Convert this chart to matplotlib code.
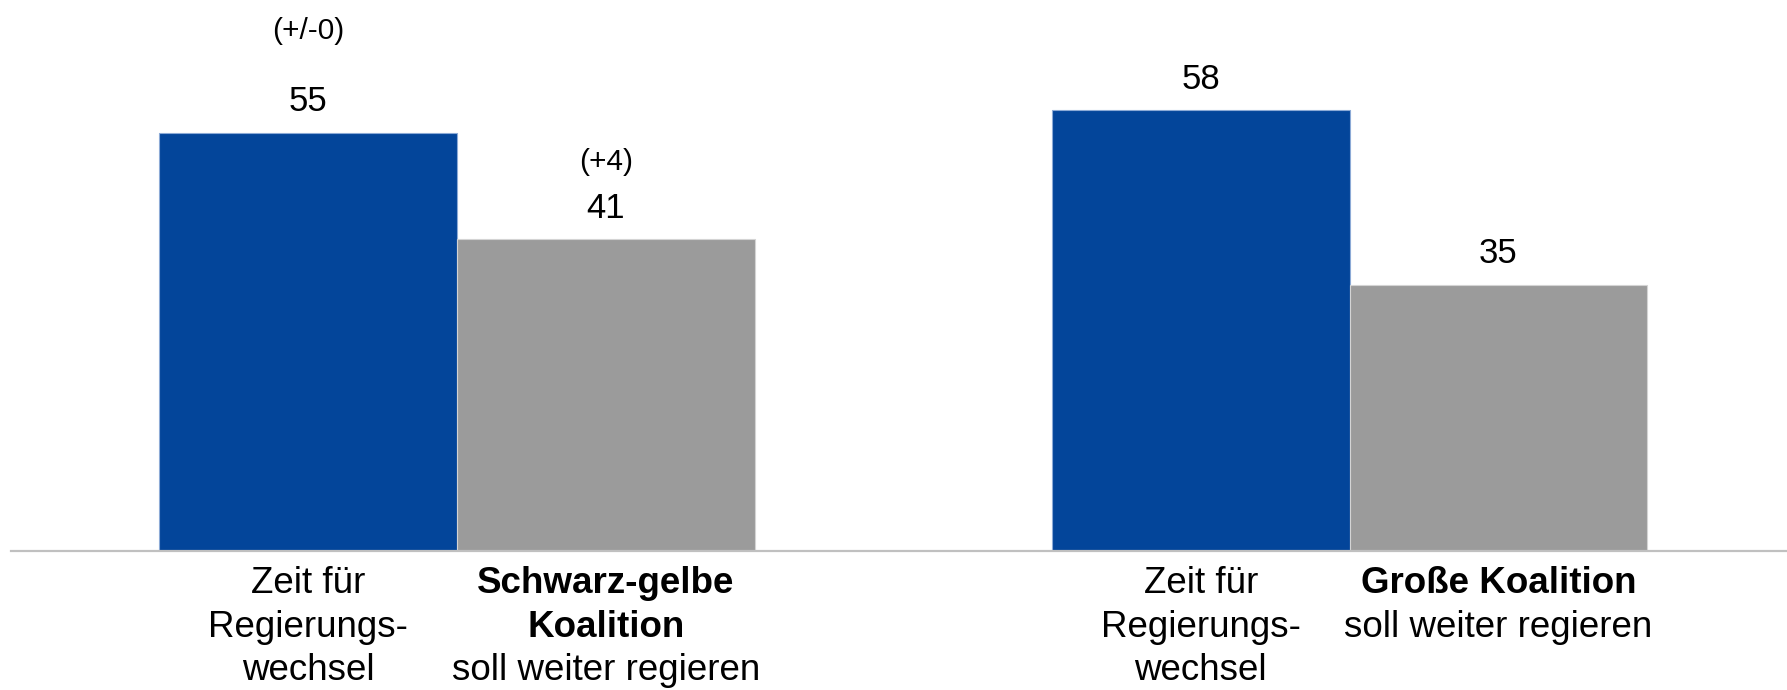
import matplotlib
matplotlib.use('Agg')
import matplotlib.pyplot as plt

plt.rcParams['font.family'] = ['Liberation Sans', 'DejaVu Sans']

# data
positions = [0, 1, 3, 4]
values = [55, 41, 58, 35]
colors = ['#03459a', '#9b9b9b', '#03459a', '#9b9b9b']
edges = ['#8caad6', '#d4d4d4', '#8caad6', '#d4d4d4']
changes = ['(+/-0)', '(+4)']
change_idx = [0, 1]
change_offsets = [68, 50]

# category labels: (bold part, regular part), one entry per bar
label_bold = ['', 'Schwarz-gelbe\nKoalition', '', 'Große Koalition']
label_regular = ['Zeit für\nRegierungs-\nwechsel', 'soll weiter regieren',
                 'Zeit für\nRegierungs-\nwechsel', 'soll weiter regieren']

fig = plt.figure(figsize=(17.87, 6.90), dpi=100)
ax = fig.add_axes([0.006, 0.2014, 0.994, 0.7986])

ax.bar(positions, values, width=1.0, color=colors, edgecolor=edges, linewidth=0.8)
ax.set_xlim(-1.0, 4.97)
ax.set_ylim(0, 72.5)

for s in ['top', 'right', 'left']:
    ax.spines[s].set_visible(False)
ax.spines['bottom'].set_color('#c0c0c0')
ax.spines['bottom'].set_linewidth(1.6)
ax.set_xticks([])
ax.set_yticks([])

for x, v in zip(positions, values):
    ax.annotate(str(v), (x, v), xytext=(0, 15.5), textcoords='offset points',
                ha='center', va='baseline', fontsize=25)

for i, txt, off in zip(change_idx, changes, change_offsets):
    ax.annotate(txt, (positions[i], values[i]), xytext=(0, off), textcoords='offset points',
                ha='center', va='baseline', fontsize=21.5)

line_step = 31.3  # points between text lines
first_line = -30.5
for x, b, r in zip(positions, label_bold, label_regular):
    n = 0
    if b:
        for line in b.split('\n'):
            ax.annotate(line, (x, 0), xytext=(0, first_line - n * line_step),
                        textcoords='offset points', ha='center', va='baseline',
                        fontsize=26.5, fontweight='bold')
            n += 1
    for line in r.split('\n'):
        ax.annotate(line, (x, 0), xytext=(0, first_line - n * line_step),
                    textcoords='offset points', ha='center', va='baseline',
                    fontsize=26.5)
        n += 1

fig.savefig('out.png', dpi=100)
